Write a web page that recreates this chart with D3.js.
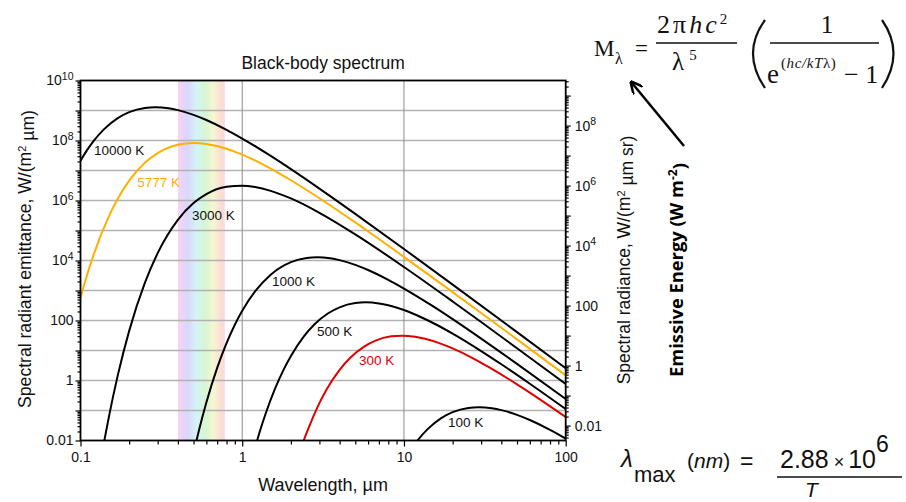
<!DOCTYPE html>
<html>
<head>
<meta charset="utf-8">
<script src="https://cdn.jsdelivr.net/npm/d3@7"></script>
<style>
  body { margin: 0; background: #fff; }
  svg { display: block; }
</style>
</head>
<body>
<svg id="chart" width="906" height="502" font-family="Liberation Sans, Arial, sans-serif"></svg>
<script>
// ---- data (wavelength in µm, emittance in W/(m² µm)) ----
var temps = ["10000 K", "5777 K", "3000 K", "1000 K", "500 K", "300 K", "100 K"];

var wl10000 = [0.1, 0.11, 0.12, 0.14, 0.17, 0.2, 0.25, 0.29, 0.35, 0.4, 0.5, 0.6, 0.8, 1, 1.5, 2, 3, 5, 10, 20, 50, 100];
var m10000 = [2.11e7, 4.85e7, 9.33e7, 2.39e8, 5.56e8, 8.79e8, 1.22e9, 1.29e9, 1.19e9, 1.03e9, 7.14e8, 4.81e8, 2.27e8, 1.16e8, 3.06e7, 1.11e7, 2.50e6, 3.59e5, 2.42e4, 1.57e3, 41.0, 2.58];

var wl5777 = [0.1, 0.11, 0.12, 0.15, 0.17, 0.2, 0.25, 0.3, 0.4, 0.5, 0.6, 0.7, 0.8, 1, 1.5, 2, 3, 5, 7, 10, 20, 30, 50, 100];
var m5777 = [571, 3.41e3, 1.46e4, 3.03e5, 1.14e6, 4.57e6, 1.81e7, 3.82e7, 7.24e7, 8.28e7, 7.70e7, 6.53e7, 5.31e7, 3.38e7, 1.16e7, 4.73e6, 1.19e6, 1.86e5, 5.21e4, 1.32e4, 881, 178, 23.4, 1.48];

var wl3000 = [0.13, 0.14, 0.15, 0.17, 0.2, 0.25, 0.3, 0.4, 0.5, 0.6, 0.8, 1, 1.2, 1.5, 2, 3, 5, 10, 20, 30, 50, 100];
var m3000 = [9.6e-4, 9.2e-3, 0.064, 1.48, 45.1, 1785, 1.76e4, 2.27e5, 8.18e5, 1.63e6, 2.85e6, 3.12e6, 2.82e6, 2.10e6, 1.17e6, 3.90e5, 7.44e4, 6.08e3, 431, 88.8, 11.9, 0.762];

var wl1000 = [0.5, 0.55, 0.6, 0.7, 0.8, 0.9, 1, 1.2, 1.5, 2, 2.5, 2.9, 3.5, 4, 5, 6, 8, 10, 15, 20, 30, 50, 100];
var m1000 = [3.81e-3, 0.0324, 0.186, 2.64, 17.7, 72.3, 211, 933, 3.36e3, 8.79e3, 1.22e4, 1.29e4, 1.19e4, 1.03e4, 7.14e3, 4.81e3, 2.27e3, 1.16e3, 306, 111, 25.0, 3.59, 0.242];

var wl500 = [1.2, 1.3, 1.4, 1.6, 1.8, 2, 2.4, 2.8, 3.4, 4, 5, 5.8, 7, 8, 10, 12, 16, 20, 30, 40, 60, 100];
var m500 = [5.8e-3, 0.0246, 0.0824, 0.552, 2.26, 6.59, 29.2, 74.8, 174, 275, 380, 402, 371, 322, 223, 150, 70.8, 36.4, 9.57, 3.47, 0.782, 0.112];

var wl300 = [2.33, 2.5, 2.67, 3, 3.33, 4, 4.67, 5.67, 6.67, 8.33, 9.66, 11.7, 13.3, 16.7, 20, 26.7, 33.3, 50, 66.7, 100];
var m300 = [6.4e-3, 0.0179, 0.0429, 0.176, 0.513, 2.27, 5.82, 13.5, 21.4, 29.6, 31.3, 28.9, 25.0, 17.3, 11.7, 5.51, 2.83, 0.744, 0.270, 0.0608];

var wl100 = [11, 12, 14, 17, 20, 25, 29, 35, 40, 50, 60, 80, 100];
var m100 = [4.9e-3, 9.3e-3, 0.0239, 0.0556, 0.0879, 0.122, 0.129, 0.119, 0.103, 0.0714, 0.0481, 0.0227, 0.0116];

// where each temperature label sits, in data units (µm, W/(m² µm))
var labelWl = [0.121, 0.224, 0.489, 1.53, 2.90, 5.28, 18.7];
var labelM = [3.3e7, 2.8e6, 2.24e5, 1.41e3, 30.4, 3.29, 0.0282];

var visibleBand = [0.4, 0.78];          // µm
var xTickLabels = ["0.1", "1", "10", "100"];
var leftLabelExp = [10, 8, 6, 4, 2, 0, -2];
var rightLabelExp = [8, 6, 4, 2, 0, -2];

var wlSeries = [wl10000, wl5777, wl3000, wl1000, wl500, wl300, wl100];
var mSeries = [m10000, m5777, m3000, m1000, m500, m300, m100];
var colors = ["#000", "#ffb000", "#000", "#000", "#000", "#e00000", "#000"];

// ---- layout ----
var L = 80.5, R = 565.7, T = 80.5, B = 440.5;
var svg = d3.select("#chart");

var x = d3.scaleLog().domain([0.1, 100]).range([L, R]);
var y = d3.scaleLog().domain([0.01, 1e10]).range([B, T]);
var yr = d3.scaleLog().domain([0.01 / Math.PI, 1e10 / Math.PI]).range([B, T]);

function decadeTicks(lo, hi, minor) {
    var out = [];
    for (var e = Math.floor(lo); e <= Math.ceil(hi); e++) {
        for (var m = minor ? 2 : 1; m <= (minor ? 9 : 1); m++) {
            var v = m * Math.pow(10, e);
            var lv = Math.log10(v);
            if (lv >= lo - 1e-9 && lv <= hi + 1e-9) out.push(v);
        }
    }
    return out;
}

var defs = svg.append("defs");
defs.append("clipPath").attr("id", "plotclip")
    .append("rect").attr("x", L).attr("y", T).attr("width", R - L).attr("height", B - T);

var grad = defs.append("linearGradient").attr("id", "rainbow")
    .attr("x1", "0%").attr("x2", "100%").attr("y1", "0%").attr("y2", "0%");
[["0", "#f8d4f6"], ["0.2", "#dad6fa"], ["0.4", "#d4f4f8"], ["0.58", "#d7f6d2"],
 ["0.76", "#f6f6d2"], ["0.9", "#fae0d6"], ["1", "#fad8d8"]].forEach(function (s) {
    grad.append("stop").attr("offset", s[0]).attr("stop-color", s[1]);
});

// visible spectrum band
svg.append("rect")
    .attr("x", x(visibleBand[0])).attr("y", T)
    .attr("width", x(visibleBand[1]) - x(visibleBand[0])).attr("height", B - T)
    .attr("fill", "url(#rainbow)");

// grid
svg.append("g").selectAll("line")
    .data(decadeTicks(-1, 9, false))
    .enter().append("line")
    .attr("x1", L).attr("x2", R)
    .attr("y1", function (d) { return y(d); }).attr("y2", function (d) { return y(d); })
    .attr("stroke", "#b2b2b2").attr("stroke-width", 1.3);

svg.append("g").selectAll("line")
    .data([1, 10])
    .enter().append("line")
    .attr("y1", T).attr("y2", B)
    .attr("x1", function (d) { return x(d); }).attr("x2", function (d) { return x(d); })
    .attr("stroke", "#8c8c8c").attr("stroke-width", 1);

// curves
var line = d3.line()
    .x(function (d) { return x(d[0]); })
    .y(function (d) { return y(d[1]); })
    .curve(d3.curveMonotoneX);

var curves = svg.append("g").attr("clip-path", "url(#plotclip)");
temps.forEach(function (t, i) {
    var pts = wlSeries[i].map(function (w, j) { return [w, mSeries[i][j]]; });
    curves.append("path")
        .attr("d", line(pts))
        .attr("fill", "none")
        .attr("stroke", colors[i])
        .attr("stroke-width", 2);
});

// curve labels
temps.forEach(function (t, i) {
    svg.append("text")
        .attr("x", x(labelWl[i])).attr("y", y(labelM[i]))
        .attr("font-size", "13.5px")
        .attr("fill", colors[i] === "#000" ? "#111" : colors[i])
        .text(t);
});

// axes
function styleAxis(g) {
    g.select(".domain").remove();
    g.selectAll(".tick line").attr("stroke", "#000").attr("stroke-width", 1.2);
    g.selectAll("text").attr("font-size", "14px").attr("fill", "#111")
        .attr("font-family", "Liberation Sans, Arial, sans-serif");
}

function expLabels(g, exps) {
    g.selectAll(".tick text").each(function (d) {
        var t = d3.select(this);
        var e = Math.round(Math.log10(d));
        t.text(null);
        if (exps.indexOf(e) < 0) return;
        if (e >= 4) {
            t.append("tspan").text("10");
            t.append("tspan").attr("dy", "-0.55em").attr("font-size", "10.5px").text(e);
        } else {
            t.text(e === 2 ? "100" : e === 0 ? "1" : "0.01");
        }
    });
}

// x axis
svg.append("g").attr("transform", "translate(0," + B + ")")
    .call(d3.axisBottom(x).tickValues(decadeTicks(-1, 2, true)).tickSize(4).tickFormat(""))
    .call(styleAxis);
svg.append("g").attr("transform", "translate(0," + B + ")")
    .call(d3.axisBottom(x).tickValues(decadeTicks(-1, 2, false)).tickSize(6).tickPadding(6)
        .tickFormat(function (d, i) { return xTickLabels[i]; }))
    .call(styleAxis);

// left axis
svg.append("g").attr("transform", "translate(" + L + ",0)")
    .call(d3.axisLeft(y).tickValues(decadeTicks(-2, 10, true)).tickSize(3).tickFormat(""))
    .call(styleAxis);
svg.append("g").attr("transform", "translate(" + L + ",0)")
    .call(d3.axisLeft(y).tickValues(decadeTicks(-2, 10, false)).tickSize(5).tickPadding(2))
    .call(styleAxis)
    .call(expLabels, leftLabelExp);

// right axis
var rlo = Math.log10(0.01 / Math.PI), rhi = Math.log10(1e10 / Math.PI);
svg.append("g").attr("transform", "translate(" + R + ",0)")
    .call(d3.axisRight(yr).tickValues(decadeTicks(rlo, rhi, true)).tickSize(3).tickFormat(""))
    .call(styleAxis);
svg.append("g").attr("transform", "translate(" + R + ",0)")
    .call(d3.axisRight(yr).tickValues(decadeTicks(rlo, rhi, false)).tickSize(5).tickPadding(4))
    .call(styleAxis)
    .call(expLabels, rightLabelExp);

// frame
svg.append("rect")
    .attr("x", L).attr("y", T).attr("width", R - L).attr("height", B - T)
    .attr("fill", "none").attr("stroke", "#000").attr("stroke-width", 1.8);

// titles
svg.append("text").attr("x", (L + R) / 2).attr("y", 69)
    .attr("text-anchor", "middle").attr("font-size", "17.5px").attr("fill", "#111")
    .text("Black-body spectrum");
svg.append("text").attr("x", (L + R) / 2).attr("y", 491)
    .attr("text-anchor", "middle").attr("font-size", "18px").attr("fill", "#111")
    .text("Wavelength, µm");

var yl = svg.append("text")
    .attr("transform", "translate(31,259) rotate(-90)")
    .attr("text-anchor", "middle").attr("font-size", "17.6px").attr("fill", "#111");
yl.append("tspan").text("Spectral radiant emittance, W/(m");
yl.append("tspan").attr("dy", "-0.45em").attr("font-size", "11px").text("2");
yl.append("tspan").attr("dy", "0.45em").text(" µm)");

var yr2 = svg.append("text")
    .attr("transform", "translate(630,260) rotate(-90)")
    .attr("text-anchor", "middle").attr("font-size", "17.5px").attr("fill", "#111");
yr2.append("tspan").text("Spectral radiance, W/(m");
yr2.append("tspan").attr("dy", "-0.45em").attr("font-size", "11px").text("2");
yr2.append("tspan").attr("dy", "0.45em").text(" µm sr)");

// ---- annotations on the right ----
var serif = "Liberation Serif, DejaVu Serif, serif";
var f = svg.append("g").attr("font-family", serif).attr("fill", "#111");

f.append("text").attr("x", 594).attr("y", 56).attr("font-size", "23px").text("M");
f.append("text").attr("x", 615).attr("y", 64).attr("font-size", "16px").text("λ");
f.append("text").attr("x", 635).attr("y", 56).attr("font-size", "23px").text("=");

var num = f.append("text").attr("x", 657).attr("y", 33).attr("font-size", "26px").attr("letter-spacing", "3");
num.append("tspan").text("2π");
num.append("tspan").attr("font-style", "italic").text("hc");
num.append("tspan").attr("dy", "-9").attr("font-size", "15px").attr("letter-spacing", "0").text("2");
f.append("line").attr("x1", 656).attr("x2", 737).attr("y1", 43).attr("y2", 43)
    .attr("stroke", "#111").attr("stroke-width", 1.3);
var den = f.append("text").attr("x", 672).attr("y", 70).attr("font-size", "25px");
den.append("tspan").text("λ");
den.append("tspan").attr("dx", "5").attr("dy", "-10").attr("font-size", "15px").text("5");

f.append("path").attr("d", "M765,20 Q741,53 765,88").attr("fill", "none").attr("stroke", "#111").attr("stroke-width", 2.2);
f.append("path").attr("d", "M882,20 Q905,53 882,88").attr("fill", "none").attr("stroke", "#111").attr("stroke-width", 2.2);

f.append("text").attr("x", 827).attr("y", 33).attr("text-anchor", "middle").attr("font-size", "25px").text("1");
f.append("line").attr("x1", 770).attr("x2", 879).attr("y1", 43).attr("y2", 43)
    .attr("stroke", "#111").attr("stroke-width", 1.3);
f.append("text").attr("x", 767).attr("y", 83).attr("font-size", "27px").text("e");
var ex = f.append("text").attr("x", 781).attr("y", 68).attr("font-size", "15px").attr("letter-spacing", "0.6");
ex.append("tspan").text("(");
ex.append("tspan").attr("font-style", "italic").text("hc/kT");
ex.append("tspan").text("λ)");
f.append("text").attr("x", 844).attr("y", 83).attr("font-size", "26px").text("− 1");

// arrow
defs.append("marker").attr("id", "head").attr("viewBox", "0 0 10 10")
    .attr("refX", 8).attr("refY", 5).attr("markerWidth", 5).attr("markerHeight", 5)
    .attr("orient", "auto")
    .append("path").attr("d", "M0,0 L10,5 L0,10").attr("fill", "none").attr("stroke", "#000").attr("stroke-width", 2);
svg.append("line").attr("x1", 684).attr("y1", 146).attr("x2", 632).attr("y2", 83)
    .attr("stroke", "#000").attr("stroke-width", 2.5).attr("marker-end", "url(#head)");

var ee = svg.append("text")
    .attr("transform", "translate(683,270) rotate(-90)")
    .attr("text-anchor", "middle").attr("font-size", "18.3px").attr("font-weight", "bold")
    .attr("font-family", "Open Sans, DejaVu Sans, sans-serif").attr("fill", "#000");
ee.append("tspan").text("Emissive Energy (W m");
ee.append("tspan").attr("dy", "-0.5em").attr("font-size", "12px").text("-2");
ee.append("tspan").attr("dy", "0.5em").text(")");

// Wien's law
var w = svg.append("g").attr("fill", "#111");
w.append("text").attr("x", 621).attr("y", 467).attr("font-size", "24px").attr("font-style", "italic").text("λ");
w.append("text").attr("x", 634).attr("y", 482).attr("font-size", "22px").text("max");
var nm = w.append("text").attr("x", 687).attr("y", 468).attr("font-size", "21px");
nm.append("tspan").text("(");
nm.append("tspan").attr("font-style", "italic").text("nm");
nm.append("tspan").text(")");
w.append("text").attr("x", 740).attr("y", 469).attr("font-size", "23px").text("=");
var wn = w.append("text").attr("x", 780).attr("y", 468).attr("font-size", "25px");
wn.append("tspan").text("2.88");
wn.append("tspan").attr("font-size", "18px").attr("dx", "5").text("×");
wn.append("tspan").attr("dx", "4").text("10");
wn.append("tspan").attr("dy", "-16").attr("font-size", "23px").text("6");
w.append("line").attr("x1", 777).attr("x2", 902).attr("y1", 477).attr("y2", 477)
    .attr("stroke", "#111").attr("stroke-width", 1.5);
w.append("text").attr("x", 805).attr("y", 497).attr("font-size", "21px").attr("font-style", "italic").text("T");
</script>
</body>
</html>
